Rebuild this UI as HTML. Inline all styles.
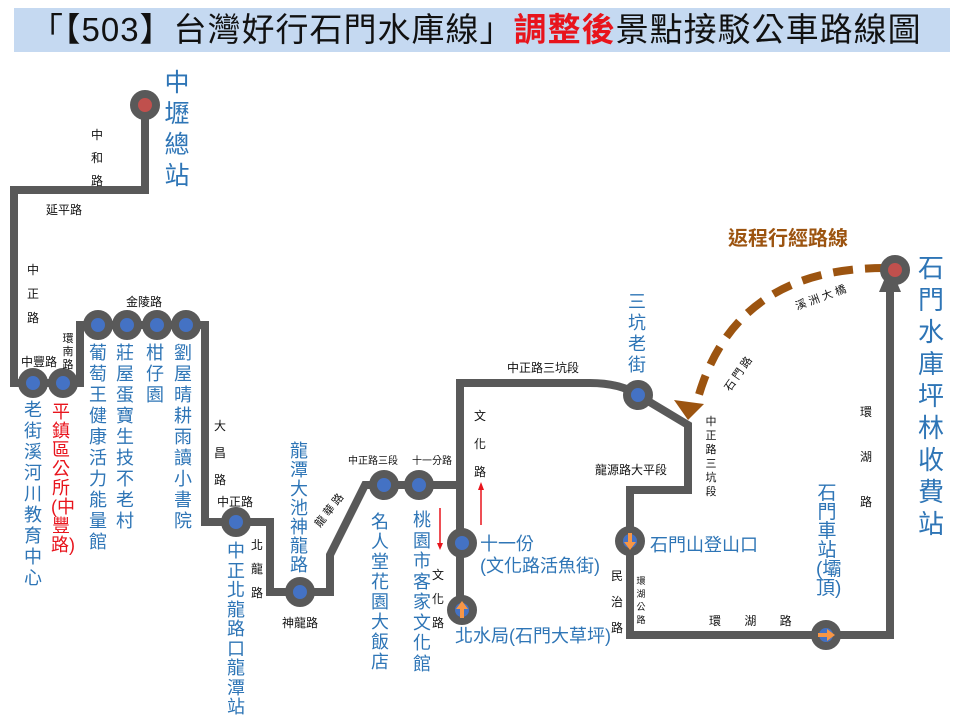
<!DOCTYPE html>
<html><head><meta charset="utf-8"><style>
body{margin:0;width:960px;height:720px;background:#fff;position:relative;overflow:hidden;font-family:"Liberation Sans","Noto Sans CJK TC",sans-serif}
.t{position:absolute;white-space:nowrap;line-height:1}
.v{position:absolute;word-break:break-all;text-align:center;white-space:normal}
.b{color:#2e75b6}
.r{color:#e8141c}
.k{color:#111;font-size:12px}
</style></head><body>
<div style="position:absolute;left:14px;top:8px;width:936px;height:44px;background:#c5d9f1"></div>
<div class="t" style="left:30px;top:13px;font-size:33px;color:#111;letter-spacing:1px">「【503】台灣好行石門水庫線」<span style="color:#e8141c;font-weight:bold">調整後</span>景點接駁公車路線圖</div>
<svg width="960" height="720" style="position:absolute;left:0;top:0">
<g fill="none" stroke="#595959" stroke-width="8" stroke-linejoin="miter">
<polyline points="145,105 145,190 14,190 14,383 80,383 80,325 205,325 205,522 270,522 270,592 330,592 330,555 365,485 460,485"/>
<path d="M460,610 V383 H590 Q620,383 638,395 L688,425 V490 H630 V635 H890 V290"/>
</g>
<polygon points="879,292 901,292 890,266" fill="#595959"/>
<path d="M885,268 Q735,268 698,398" fill="none" stroke="#9c5410" stroke-width="8" stroke-dasharray="20,12"/>
<polygon points="674,400 704,404 688,420" fill="#9c5410"/>
<g stroke="#595959" stroke-width="8" fill="#4472c4">
<circle cx="145" cy="105" r="11" fill="#c0504d"/>
<circle cx="895" cy="270" r="11" fill="#c0504d"/>
<circle cx="33" cy="383" r="11"/><circle cx="63" cy="383" r="11"/>
<circle cx="98" cy="325" r="11"/><circle cx="127" cy="325" r="11"/><circle cx="157" cy="325" r="11"/><circle cx="186" cy="325" r="11"/>
<circle cx="236" cy="522" r="11"/><circle cx="300" cy="592" r="11"/>
<circle cx="384" cy="485" r="11"/><circle cx="419" cy="485" r="11"/>
<circle cx="462" cy="543" r="11"/><circle cx="462" cy="610" r="11"/>
<circle cx="638" cy="395" r="11"/><circle cx="630" cy="541" r="11"/><circle cx="826" cy="635" r="11"/>
</g>
<g fill="#f79646">
<polygon points="462,601 456,609 460,609 460,618 464,618 464,609 468,609"/>
<polygon points="630,550 624,542 628,542 628,533 632,533 632,542 636,542"/>
<polygon points="835,635 827,629 827,633 818,633 818,637 827,637 827,641"/>
</g>
<g stroke="#e8141c" stroke-width="1.5" fill="#e8141c">
<line x1="440" y1="508" x2="440" y2="545"/><polygon points="437,543 443,543 440,550" stroke="none"/>
<line x1="481" y1="525" x2="481" y2="488"/><polygon points="478,490 484,490 481,482" stroke="none"/>
</g>
<g font-size="11" fill="#111" font-family="Liberation Sans,Noto Sans CJK TC,sans-serif">
<text transform="translate(320,528) rotate(-52)">龍 華 路</text>
<text transform="translate(797,310) rotate(-20)">溪 洲 大 橋</text>
<text transform="translate(730,392) rotate(-55)">石 門 路</text>
</g>
</svg>
<div class="v b" style="left:164px;top:68px;width:26px;font-size:25px;line-height:31px">中壢總站</div>
<div class="v b" style="left:917px;top:252px;width:28px;font-size:26px;line-height:32px">石門水庫坪林收費站</div>
<div class="v b" style="left:23px;top:400px;width:20px;font-size:18px;line-height:21px">老街溪河川教育中心</div>
<div class="v r" style="left:51px;top:403px;width:20px;font-size:18px;line-height:19px">平鎮區公所(中豐路)</div>
<div class="v b" style="left:88px;top:343px;width:20px;font-size:18px;line-height:21px">葡萄王健康活力能量館</div>
<div class="v b" style="left:115px;top:343px;width:20px;font-size:18px;line-height:21px">莊屋蛋寶生技不老村</div>
<div class="v b" style="left:145px;top:343px;width:20px;font-size:18px;line-height:21px">柑仔園</div>
<div class="v b" style="left:173px;top:343px;width:20px;font-size:18px;line-height:21px">劉屋晴耕雨讀小書院</div>
<div class="v b" style="left:226px;top:542px;width:20px;font-size:18px;line-height:19.5px">中正北龍路口龍潭站</div>
<div class="v b" style="left:289px;top:442px;width:20px;font-size:18px;line-height:19px">龍潭大池神龍路</div>
<div class="v b" style="left:370px;top:512px;width:20px;font-size:18px;line-height:20px">名人堂花園大飯店</div>
<div class="v b" style="left:412px;top:510px;width:20px;font-size:18px;line-height:20.5px">桃園市客家文化館</div>
<div class="v b" style="left:627px;top:292px;width:20px;font-size:18px;line-height:21px">三坑老街</div>
<div class="v b" style="left:816px;top:484px;width:22px;font-size:19px;line-height:19px">石門車站(壩頂)</div>
<div class="t b" style="left:480px;top:535px;font-size:18px">十一份</div>
<div class="t b" style="left:480px;top:557px;font-size:18px">(文化路活魚街)</div>
<div class="t b" style="left:455px;top:627px;font-size:18px">北水局(石門大草坪)</div>
<div class="t b" style="left:650px;top:536px;font-size:18px">石門山登山口</div>
<div class="t" style="left:728px;top:229px;font-size:20px;color:#9c5410;font-weight:bold">返程行經路線</div>
<div class="v k" style="left:90px;top:124px;width:14px;line-height:23px">中和路</div>
<div class="t k" style="left:46px;top:204px">延平路</div>
<div class="v k" style="left:26px;top:258px;width:14px;line-height:24px">中正路</div>
<div class="t k" style="left:21px;top:356px">中豐路</div>
<div class="v k" style="left:62px;top:333px;width:12px;font-size:11px;line-height:13px">環南路</div>
<div class="t k" style="left:126px;top:296px">金陵路</div>
<div class="v k" style="left:213px;top:413px;width:14px;line-height:27px">大昌路</div>
<div class="t k" style="left:217px;top:496px">中正路</div>
<div class="v k" style="left:250px;top:533px;width:14px;line-height:24px">北龍路</div>
<div class="t k" style="left:282px;top:617px">神龍路</div>
<div class="t k" style="left:348px;top:457px;font-size:10px">中正路三段</div>
<div class="t k" style="left:412px;top:457px;font-size:10px">十一分路</div>
<div class="v k" style="left:431px;top:563px;width:14px;line-height:24px">文化路</div>
<div class="v k" style="left:473px;top:402px;width:14px;line-height:28px">文化路</div>
<div class="t k" style="left:507px;top:362px">中正路三坑段</div>
<div class="v k" style="left:705px;top:415px;width:12px;font-size:11px;line-height:14px">中正路三坑段</div>
<div class="t k" style="left:595px;top:464px">龍源路大平段</div>
<div class="v k" style="left:610px;top:563px;width:14px;line-height:26px">民治路</div>
<div class="v k" style="left:636px;top:575px;width:10px;font-size:9px;line-height:13px">環湖公路</div>
<div class="t k" style="left:709px;top:615px">環&nbsp;&nbsp;&nbsp;&nbsp;&nbsp;&nbsp;&nbsp;湖&nbsp;&nbsp;&nbsp;&nbsp;&nbsp;&nbsp;&nbsp;路</div>
<div class="v k" style="left:859px;top:390px;width:14px;line-height:45px">環湖路</div>
</body></html>
